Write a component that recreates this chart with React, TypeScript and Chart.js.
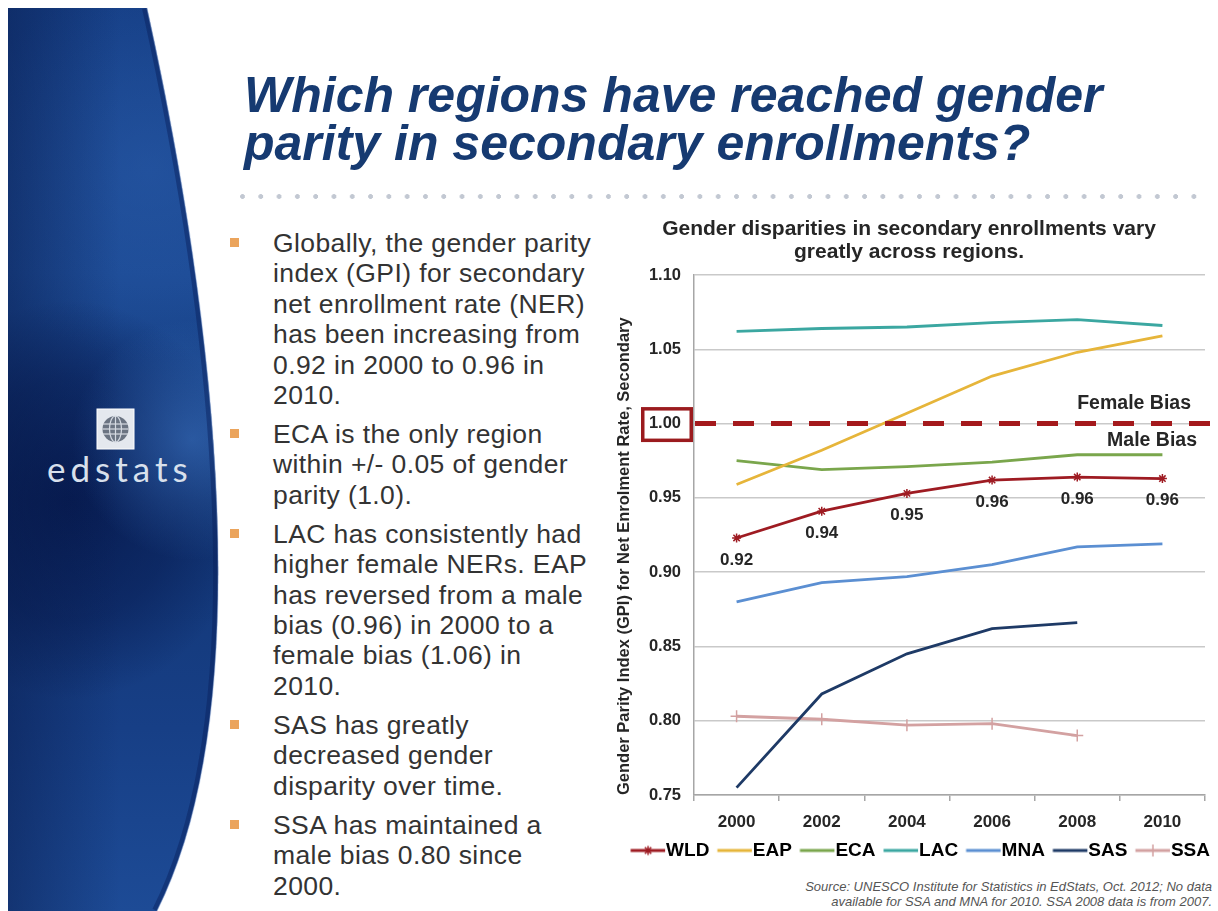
import React, { useEffect, useRef } from 'react';
import { Chart, registerables } from 'chart.js';

Chart.register(...registerables);

const FONT = '"Liberation Sans", Arial, Helvetica, sans-serif';

// ---------- data ----------
const years = ['2000', '2002', '2004', '2006', '2008', '2010'];
const seriesNames = ['WLD', 'EAP', 'ECA', 'LAC', 'MNA', 'SAS', 'SSA'];
const wld = [0.923, 0.941, 0.953, 0.962, 0.964, 0.963];
const eap = [0.959, 0.982, 1.007, 1.032, 1.048, 1.059];
const eca = [0.975, 0.969, 0.971, 0.974, 0.979, 0.979];
const lac = [1.062, 1.064, 1.065, 1.068, 1.07, 1.066];
const mna = [0.88, 0.893, 0.897, 0.905, 0.917, 0.919];
const sas = [0.755, 0.818, 0.845, 0.862, 0.866, null];
const ssa = [0.803, 0.801, 0.797, 0.798, 0.79, null];
const seriesData = [wld, eap, eca, lac, mna, sas, ssa];
const seriesColors = ['#9e1b22', '#e6b53a', '#7aa64c', '#3ba7a1', '#5b8fd2', '#1e3a66', '#d3a1a1'];
const seriesMarkers = ['star', null, null, null, null, null, 'cross'];

const yMin = 0.75;
const yMax = 1.1;
const yStep = 0.05;
const parityValue = 1.0;
const femaleBiasText = 'Female Bias';
const maleBiasText = 'Male Bias';

const chartTitle = ['Gender disparities in secondary enrollments vary', 'greatly across regions.'];
const yTitle = 'Gender Parity Index (GPI) for Net Enrolment Rate, Secondary';
const sourceLines = [
  'Source: UNESCO Institute for Statistics in EdStats, Oct. 2012; No data',
  'available for SSA and MNA for 2010. SSA 2008 data is from 2007.',
];

const slideTitle = ['Which regions have reached gender', 'parity in secondary enrollments?'];
const bullets = [
  ['Globally, the gender parity', 'index (GPI) for secondary', 'net enrollment rate (NER)', 'has been increasing from', '0.92 in 2000 to 0.96 in', '2010.'],
  ['ECA is the only region', 'within +/- 0.05 of gender', 'parity (1.0).'],
  ['LAC has consistently had', 'higher female NERs. EAP', 'has reversed from a male', 'bias (0.96) in 2000 to a', 'female bias (1.06) in', '2010.'],
  ['SAS has greatly', 'decreased gender', 'disparity over time.'],
  ['SSA has maintained a', 'male bias 0.80 since', '2000.'],
];

// ---------- helpers ----------
function drawMarker(g: CanvasRenderingContext2D, kind: string | null, x: number, y: number, color: string) {
  if (!kind) return;
  g.save();
  g.strokeStyle = color;
  g.lineWidth = 1.5;
  g.beginPath();
  if (kind === 'star') {
    const r = 4.5;
    for (let k = 0; k < 4; k++) {
      const a = (k * Math.PI) / 4;
      g.moveTo(x - Math.cos(a) * r, y - Math.sin(a) * r);
      g.lineTo(x + Math.cos(a) * r, y + Math.sin(a) * r);
    }
  } else if (kind === 'cross') {
    const r = 6;
    g.moveTo(x - r, y);
    g.lineTo(x + r, y);
    g.moveTo(x, y - r);
    g.lineTo(x, y + r);
  }
  g.stroke();
  g.restore();
}

function legendImage(color: string, marker: string | null) {
  const c = document.createElement('canvas');
  c.width = 45;
  c.height = 14;
  const g = c.getContext('2d') as CanvasRenderingContext2D;
  g.strokeStyle = color;
  g.lineWidth = 3;
  g.beginPath();
  g.moveTo(9.5, 7);
  g.lineTo(44, 7);
  g.stroke();
  drawMarker(g, marker, 27, 7, color);
  return c;
}

const annotPlugin = {
  id: 'annot',
  afterDatasetsDraw(chart: any) {
    const { ctx, chartArea, scales } = chart;
    const x = scales.x;
    const y = scales.y;
    const y1 = y.getPixelForValue(parityValue);
    ctx.save();
    // parity dashed line
    ctx.strokeStyle = '#a4191c';
    ctx.lineWidth = 5;
    ctx.setLineDash([21, 17]);
    ctx.beginPath();
    ctx.moveTo(chartArea.left + 1, y1);
    ctx.lineTo(chartArea.right + 6, y1);
    ctx.stroke();
    ctx.setLineDash([]);
    // box around parity tick label
    ctx.lineWidth = 3.5;
    ctx.strokeStyle = '#9b1b1e';
    ctx.strokeRect(chartArea.left - 53 + 1.75, y1 - 16.5 + 1.75, 52 - 3.5, 35 - 3.5);
    // bias labels
    ctx.fillStyle = '#262626';
    ctx.font = `bold 19.5px ${FONT}`;
    ctx.textAlign = 'right';
    ctx.textBaseline = 'middle';
    ctx.fillText(femaleBiasText, chartArea.right - 14, y1 - 20);
    ctx.fillText(maleBiasText, chartArea.right - 8, y1 + 17);
    // WLD value labels
    ctx.font = `bold 17px ${FONT}`;
    ctx.textAlign = 'center';
    wld.forEach((v, i) => {
      ctx.fillText(v.toFixed(2), x.getPixelForValue(i), y.getPixelForValue(v) + 22);
    });
    ctx.restore();
  },
};

function GpiChart() {
  const ref = useRef<HTMLCanvasElement | null>(null);
  useEffect(() => {
    if (!ref.current) return;
    Chart.defaults.font.family = FONT;
    const legendImgs = seriesNames.map((_, i) => legendImage(seriesColors[i], seriesMarkers[i]));
    const chart = new Chart(ref.current, {
      type: 'line',
      data: {
        labels: years,
        datasets: seriesNames.map((name, i) => ({
          label: name,
          data: seriesData[i],
          borderColor: seriesColors[i],
          backgroundColor: seriesColors[i],
          borderWidth: 2.8,
          pointStyle: seriesMarkers[i] === 'star' ? 'star' : seriesMarkers[i] === 'cross' ? 'cross' : 'circle',
          pointRadius: seriesMarkers[i] === 'star' ? 4.5 : seriesMarkers[i] === 'cross' ? 6 : 0,
          pointBorderColor: seriesColors[i],
          pointBorderWidth: 1.5,
          pointHoverRadius: 0,
          tension: 0,
          fill: false,
          spanGaps: false,
        })),
      },
      options: {
        responsive: false,
        animation: false,
        devicePixelRatio: 1,
        events: [],
        layout: { padding: { left: 0, right: 0, top: 0, bottom: 3 } },
        plugins: {
          tooltip: { enabled: false },
          title: {
            display: true,
            text: chartTitle,
            color: '#262626',
            font: { size: 21, weight: 'bold', lineHeight: 1.1 },
            padding: { top: 12.5, bottom: 11.3 },
          },
          legend: {
            display: true,
            position: 'bottom',
            align: 'end',
            labels: {
              usePointStyle: true,
              pointStyleWidth: 26,
              padding: 8,
              color: '#262626',
              font: { size: 19, weight: 'bold' },
              generateLabels: (ch: any) =>
                ch.data.datasets.map((ds: any, i: number) => ({
                  text: ds.label,
                  pointStyle: legendImgs[i],
                  fillStyle: ds.borderColor,
                  strokeStyle: ds.borderColor,
                  lineWidth: 0,
                  hidden: false,
                  datasetIndex: i,
                })),
            },
          },
        },
        scales: {
          x: {
            type: 'category',
            offset: true,
            grid: {
              display: true,
              drawOnChartArea: false,
              drawTicks: true,
              tickLength: 6,
              offset: true,
              color: '#a6a6a6',
              lineWidth: 1.5,
            },
            border: { display: true, color: '#a6a6a6', width: 1.5 },
            ticks: { color: '#262626', font: { size: 17, weight: 'bold' }, padding: 11 },
            afterFit: (s: any) => {
              s.height = 38;
            },
          },
          y: {
            type: 'linear',
            min: yMin,
            max: yMax,
            ticks: {
              stepSize: yStep,
              color: '#262626',
              font: { size: 16.5, weight: 'bold' },
              padding: 13,
              callback: (v: any) => Number(v).toFixed(2),
            },
            grid: { color: '#c9c9c9', lineWidth: 1.5, drawTicks: false },
            border: { display: true, color: '#a6a6a6', width: 1.5 },
            title: {
              display: true,
              text: yTitle,
              align: 'start',
              color: '#262626',
              font: { size: 16.5, weight: 'bold' },
              padding: { top: 15, bottom: 0 },
            },
            afterFit: (s: any) => {
              s.width = 94;
            },
          },
          yR: {
            type: 'linear',
            position: 'right',
            display: true,
            grid: { display: false },
            border: { display: false },
            ticks: { display: false },
            afterFit: (s: any) => {
              s.width = 13;
            },
          },
        },
      } as any,
      plugins: [annotPlugin],
    });
    return () => chart.destroy();
  }, []);
  return (
    <canvas
      ref={ref}
      width={618}
      height={668}
      style={{ position: 'absolute', left: 600, top: 205, width: 618, height: 668 }}
    />
  );
}

const PANEL_EDGE = 'M147,8 C205,270 268,690 157,911';

function BluePanel() {
  return (
    <svg width={300} height={911} style={{ position: 'absolute', left: 0, top: 0 }}>
      <defs>
        <linearGradient id="bv" x1="0" y1="0" x2="0" y2="1">
          <stop offset="0" stopColor="#163f86" />
          <stop offset="0.3" stopColor="#1c4a94" />
          <stop offset="0.55" stopColor="#123675" />
          <stop offset="0.8" stopColor="#173f86" />
          <stop offset="1" stopColor="#1d4b96" />
        </linearGradient>
        <radialGradient id="dark" cx="70" cy="500" r="190" gradientUnits="userSpaceOnUse" gradientTransform="translate(70 500) scale(0.95 1.05) translate(-70 -500)">
          <stop offset="0" stopColor="#05164a" stopOpacity="0.8" />
          <stop offset="0.6" stopColor="#05164a" stopOpacity="0.45" />
          <stop offset="1" stopColor="#05164a" stopOpacity="0" />
        </radialGradient>
        <radialGradient id="hl" cx="192" cy="440" r="120" gradientUnits="userSpaceOnUse">
          <stop offset="0" stopColor="#3f79c9" stopOpacity="0.55" />
          <stop offset="1" stopColor="#3f79c9" stopOpacity="0" />
        </radialGradient>
        <radialGradient id="hl2" cx="150" cy="170" r="190" gradientUnits="userSpaceOnUse">
          <stop offset="0" stopColor="#2c5fae" stopOpacity="0.45" />
          <stop offset="1" stopColor="#2c5fae" stopOpacity="0" />
        </radialGradient>
        <linearGradient id="lh" x1="0" y1="0" x2="1" y2="0">
          <stop offset="0" stopColor="#061542" stopOpacity="0.45" />
          <stop offset="0.5" stopColor="#061542" stopOpacity="0" />
        </linearGradient>
        <clipPath id="pc">
          <path d={`M8,8 L147,8 C205,270 268,690 157,911 L8,911 Z`} />
        </clipPath>
      </defs>
      <g clipPath="url(#pc)">
        <rect x="0" y="0" width="300" height="911" fill="url(#bv)" />
        <rect x="0" y="0" width="300" height="911" fill="url(#hl2)" />
        <rect x="0" y="0" width="300" height="911" fill="url(#dark)" />
        <rect x="0" y="0" width="300" height="911" fill="url(#hl)" />
        <rect x="0" y="0" width="240" height="911" fill="url(#lh)" />
        <path d={PANEL_EDGE} fill="none" stroke="#08205a" strokeOpacity="0.45" strokeWidth="10" />
      </g>
      <path d={PANEL_EDGE} fill="none" stroke="#9fb8e0" strokeOpacity="0.45" strokeWidth="1.2" />
      {/* logo icon */}
      <rect x="97" y="409" width="37" height="40" fill="#e4e8ee" stroke="#ffffff" strokeWidth="1" />
      <circle cx="115.5" cy="429" r="13" fill="#6b7482" />
      <g stroke="#d5dae2" strokeWidth="1.2" fill="none">
        <ellipse cx="115.5" cy="429" rx="6" ry="13" />
        <line x1="115.5" y1="416" x2="115.5" y2="442" />
        <line x1="103" y1="424" x2="128" y2="424" />
        <line x1="102.5" y1="429" x2="128.5" y2="429" />
        <line x1="103" y1="434" x2="128" y2="434" />
      </g>
    </svg>
  );
}

export default function App() {
  return (
    <div
      style={{
        position: 'absolute',
        left: 0,
        top: 0,
        width: 1218,
        height: 911,
        overflow: 'hidden',
        background: '#ffffff',
        fontFamily: FONT,
      }}
    >
      <BluePanel />
      <div
        style={{
          position: 'absolute',
          left: 47,
          top: 451,
          fontFamily: 'Lato, "Open Sans", sans-serif',
          fontSize: 35,
          lineHeight: '35px',
          letterSpacing: 5,
          color: '#d8e0ec',
          whiteSpace: 'nowrap',
        }}
      >
        edstats
      </div>
      <div
        style={{
          position: 'absolute',
          left: 244,
          top: 70.7,
          fontSize: 50,
          lineHeight: '48px',
          fontWeight: 'bold',
          fontStyle: 'italic',
          color: '#163a71',
          whiteSpace: 'nowrap',
        }}
      >
        {slideTitle.map((t, i) => (
          <div key={i}>{t}</div>
        ))}
      </div>
      <div
        style={{
          position: 'absolute',
          left: 240,
          top: 194,
          width: 962,
          height: 5,
          backgroundImage: 'radial-gradient(circle at 2.5px 2.5px, #c2c8d2 2.1px, rgba(255,255,255,0) 2.7px)',
          backgroundSize: '18.3px 5px',
          backgroundRepeat: 'repeat-x',
        }}
      />
      <div style={{ position: 'absolute', left: 273, top: 228 }}>
        {bullets.map((lines, i) => (
          <div
            key={i}
            style={{
              position: 'relative',
              fontSize: 26.5,
              lineHeight: '30.4px',
              letterSpacing: 0.4,
              color: '#333333',
              marginBottom: 8.6,
              whiteSpace: 'nowrap',
            }}
          >
            <div
              style={{
                position: 'absolute',
                left: -43,
                top: 10,
                width: 9,
                height: 9,
                background: '#eba45c',
              }}
            />
            {lines.map((l, j) => (
              <div key={j}>{l}</div>
            ))}
          </div>
        ))}
      </div>
      <GpiChart />
      <div
        style={{
          position: 'absolute',
          right: 6,
          top: 878.5,
          fontSize: 13,
          lineHeight: '15px',
          fontStyle: 'italic',
          color: '#555555',
          textAlign: 'right',
          whiteSpace: 'nowrap',
        }}
      >
        {sourceLines.map((l, i) => (
          <div key={i}>{l}</div>
        ))}
      </div>
    </div>
  );
}
